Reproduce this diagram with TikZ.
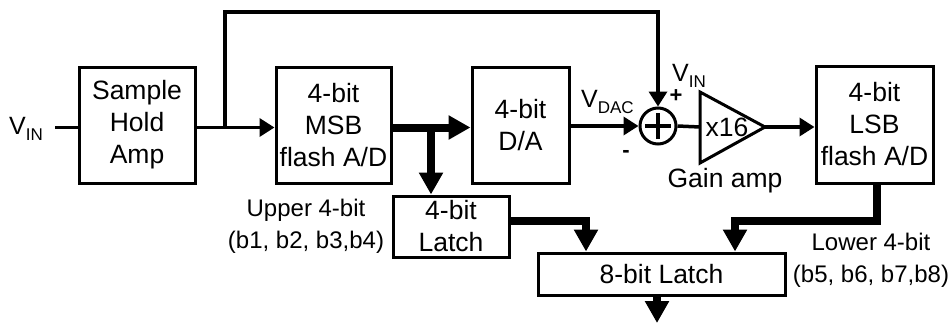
\documentclass[tikz,border=0pt]{standalone}
\usepackage{fontspec}
\setmainfont{Liberation Sans}
\usetikzlibrary{arrows.meta}
\newcommand\subtxt[1]{\raisebox{-6pt}{\fontsize{17}{17}\selectfont #1}}
\begin{document}
\begin{tikzpicture}[x=1pt,y=-1pt,
  blk/.style={draw, line width=3pt, inner sep=0pt, align=center,
    font=\fontsize{26.5}{32}\selectfont},
  txt/.style={inner sep=0pt, align=center, font=\fontsize{26.5}{32}\selectfont},
  lbl/.style={inner sep=0pt, align=center, font=\fontsize{24}{32}\selectfont},
  vlbl/.style={inner sep=0pt, font=\fontsize{25}{30}\selectfont},
  sign/.style={inner sep=0pt, font=\bfseries\fontsize{22}{22}\selectfont},
  wire/.style={line width=3.5pt},
  sig/.style={line width=3.5pt, -{Triangle[length=15pt,width=18pt]}},
  bus/.style={line width=8pt, -{Triangle[length=22pt,width=23pt]}},
]
\useasboundingbox (0,0) rectangle (952,327);

% blocks
\node[blk, minimum width=116pt, minimum height=116pt] (sha) at (137,125) {Sample\\Hold\\Amp};
\node[blk, minimum width=115pt, minimum height=116pt] (msb) at (333.5,125) {4-bit\\MSB\\flash A/D};
\node[blk, minimum width=97pt, minimum height=116pt] (da) at (520.5,125) {4-bit\\D/A};
\node[blk, minimum width=117pt, minimum height=117pt] (lsb) at (874.5,124.5) {4-bit\\LSB\\flash A/D};
\node[blk, minimum width=116pt, minimum height=61pt] (l4) at (451,226.5) {4-bit\\Latch};
\node[blk, minimum width=247pt, minimum height=42pt] (l8) at (661.5,274) {8-bit Latch};

% summing junction
\node[draw, circle, line width=3pt, minimum size=36pt, inner sep=0pt] (sum) at (658,126) {};
\draw[line width=4pt] ([xshift=-13pt]sum.center) -- ([xshift=13pt]sum.center);
\draw[line width=4pt] ([yshift=-13pt]sum.center) -- ([yshift=13pt]sum.center);

% gain amplifier
\coordinate (ampin) at (700,127);
\coordinate (ampout) at (765,127);
\draw[line width=3pt, line join=miter] (700,92) -- (700,163) -- (ampout) -- cycle;
\node[txt] (x16) at (727,127) {x16};
\node[txt] (gain) at (725,181) {Gain amp};

% labels
\node[vlbl, anchor=base west] (vin) at (9,134) {V\subtxt{IN}};
\node[vlbl, anchor=base west] (vdac) at (581,107) {V\subtxt{DAC}};
\node[vlbl, anchor=base west] (vin2) at (672,81) {V\subtxt{IN}};
\node[sign] (plus) at (676,96) {+};
\node[sign] (minus) at (626,154) {-};
\node[lbl] (upper) at (306,226) {Upper 4-bit\\(b1, b2, b3,b4)};
\node[lbl] (lower) at (871,260) {Lower 4-bit\\(b5, b6, b7,b8)};

% coordinates
\coordinate (vinend) at (55,127.5);
\coordinate (br1) at (225,127.5);
\coordinate (top) at (225,12);
\coordinate (br2) at (431,127.5);
\coordinate (bend1) at (586,221);
\coordinate (bend2) at (735,221);
\coordinate (out) at (657,323);

% connectors
\draw[wire] (vinend) -- (vinend -| sha.west);
\draw[sig] (sha.east |- br1) -- (msb.west |- br1);
\draw[sig, line join=miter] (br1) -- (top) -| (sum.north);
\draw[bus] (msb.east |- br1) -- (da.west |- br1);
\draw[bus] (br2) -- (br2 |- l4.north);
\draw[sig] (da.east |- sum.west) -- (sum.west);
\draw[wire] (sum.east) -- (ampin);
\draw[sig] (ampout) -- (lsb.west |- ampout);
\draw[bus, line join=miter] ([xshift=2.5pt]lsb.south) |- (bend2) -- (bend2 |- l8.north);
\draw[bus, line join=miter] (l4.east |- bend1) -- (bend1) -- (bend1 |- l8.north);
\draw[bus] (l8.south -| out) -- (out);
\end{tikzpicture}
\end{document}
